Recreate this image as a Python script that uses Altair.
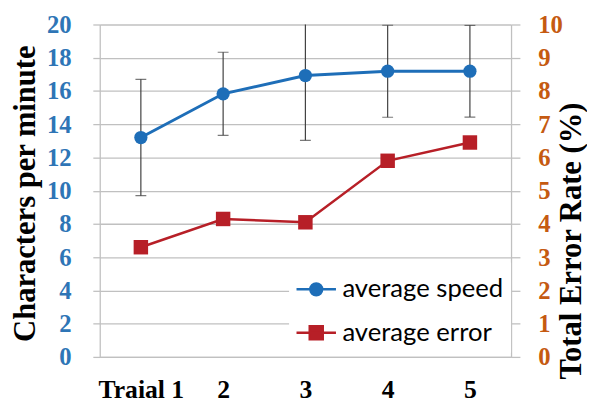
import altair as alt
import pandas as pd

trials = ["Traial 1", "2", "3", "4", "5"]
speed = [13.2, 15.83, 16.93, 17.19, 17.19]
speed_sd = [3.5, 2.5, 3.9, 2.77, 2.76]
error = [3.3, 4.15, 4.05, 5.9, 6.45]
series_names = ["average speed", "average error"]

BLUE = "#1e6eb8"
RED = "#b71f27"
GRAY = "#c0c0c0"
SERIF = "Liberation Serif"

df_speed = pd.DataFrame({
    "trial": trials,
    "value": speed,
    "lower": [v - s for v, s in zip(speed, speed_sd)],
    "upper": [v + s for v, s in zip(speed, speed_sd)],
    "series": series_names[0],
})
df_err = pd.DataFrame({"trial": trials, "value": error, "series": series_names[1]})

circle_path = "M-1,0L1,0M0.3,0A0.3,0.3,0,1,1,-0.3,0A0.3,0.3,0,1,1,0.3,0Z"
square_path = "M-1,0L1,0M-0.33,-0.33L0.33,-0.33L0.33,0.33L-0.33,0.33Z"

x_enc = alt.X("trial:N", sort=trials, scale=alt.Scale(type="point", padding=0.5),
              axis=alt.Axis(title=None, labelFont=SERIF, labelFontWeight="bold", labelFontSize=26,
                            labelColor="black", ticks=False, labelPadding=20, labelAngle=0,
                            domainColor=GRAY, domainWidth=1.3, grid=False))

color_scale = alt.Scale(domain=series_names, range=[BLUE, RED])

legend = alt.Legend(
    title=None, orient="none", legendX=192, legendY=241, padding=6,
    fillColor="white", strokeColor="white",
    labelFont="Lato", labelFontSize=26, labelColor="black", labelOffset=5,
    symbolSize=1600, symbolStrokeWidth=2.5, rowPadding=9, labelLimit=300,
    symbolType={"expr": f"datum.value == 'average speed' ? '{circle_path}' : '{square_path}'"},
    symbolStrokeColor={"expr": "scale('color', datum.value)"},
    symbolOpacity=1,
)

y_left_scale = alt.Scale(domain=[0, 20], nice=False)
axis_left = alt.Axis(title="Characters per minute", titleFont=SERIF, titleFontWeight="bold",
                     titleFontSize=31, titleColor="black", titleAngle=270, titleX=-66,
                     titleY=171, titleBaseline="alphabetic", titleAlign="center",
                     labelFont=SERIF, labelFontWeight="bold", labelFontSize=25,
                     labelColor="#2e75b6", labelPadding=22, tickSize=7, tickColor=GRAY,
                     tickWidth=1.3, domainColor=GRAY, domainWidth=1.3, grid=True,
                     gridColor=GRAY, gridWidth=1.3, values=list(range(0, 21, 2)),
                     labelOverlap=False)

base_s = alt.Chart(df_speed)
rules = base_s.mark_rule(color="#404040", strokeWidth=1.2, clip=True).encode(
    x=x_enc, y=alt.Y("lower:Q", scale=y_left_scale, axis=axis_left), y2="upper:Q")
cap_hi = base_s.mark_tick(color="#404040", thickness=1.2, size=11, clip=True, orient="horizontal").encode(
    x=x_enc, y=alt.Y("upper:Q", scale=y_left_scale, axis=axis_left))
cap_lo = base_s.mark_tick(color="#404040", thickness=1.2, size=11, clip=True, orient="horizontal").encode(
    x=x_enc, y=alt.Y("lower:Q", scale=y_left_scale, axis=axis_left))
line_s = base_s.mark_line(strokeWidth=3, color=BLUE).encode(
    x=x_enc, y=alt.Y("value:Q", scale=y_left_scale, axis=axis_left))
pts_s = base_s.mark_point(shape="circle", size=180, filled=True, opacity=1).encode(
    x=x_enc, y=alt.Y("value:Q", scale=y_left_scale, axis=axis_left),
    color=alt.Color("series:N", scale=color_scale, legend=legend))

speed_layer = alt.layer(line_s, rules, cap_hi, cap_lo, pts_s)

y_right_scale = alt.Scale(domain=[0, 10], nice=False)
axis_right = alt.Axis(orient="right", title="Total Error Rate (%)", titleFont=SERIF,
                      titleFontWeight="bold", titleFontSize=31, titleColor="black",
                      titleAngle=270, titleX=70, titleY=219, titleBaseline="alphabetic",
                      titleAlign="center", labelFont=SERIF, labelFontWeight="bold",
                      labelFontSize=25, labelColor="#c55a11", labelPadding=18, tickSize=9,
                      tickColor=GRAY, tickWidth=1.3, domainColor=GRAY, domainWidth=1.3,
                      grid=False, values=list(range(0, 11)), labelOverlap=False)

base_e = alt.Chart(df_err)
line_e = base_e.mark_line(strokeWidth=2.5, color=RED).encode(
    x=x_enc, y=alt.Y("value:Q", scale=y_right_scale, axis=axis_right))
pts_e = base_e.mark_point(shape="square", size=215, filled=True, opacity=1, color=RED).encode(
    x=x_enc, y=alt.Y("value:Q", scale=y_right_scale, axis=axis_right))
err_layer = alt.layer(line_e, pts_e)

chart = alt.layer(speed_layer, err_layer).resolve_scale(y="independent").properties(
    width=417, height=337,
    padding={"left": 93, "top": 14, "right": 77, "bottom": 44},
    autosize=alt.AutoSizeParams(type="none"),
    background="white",
).configure_view(stroke=None)

chart.save("out.html", embed_options={"renderer": "svg", "actions": False})
